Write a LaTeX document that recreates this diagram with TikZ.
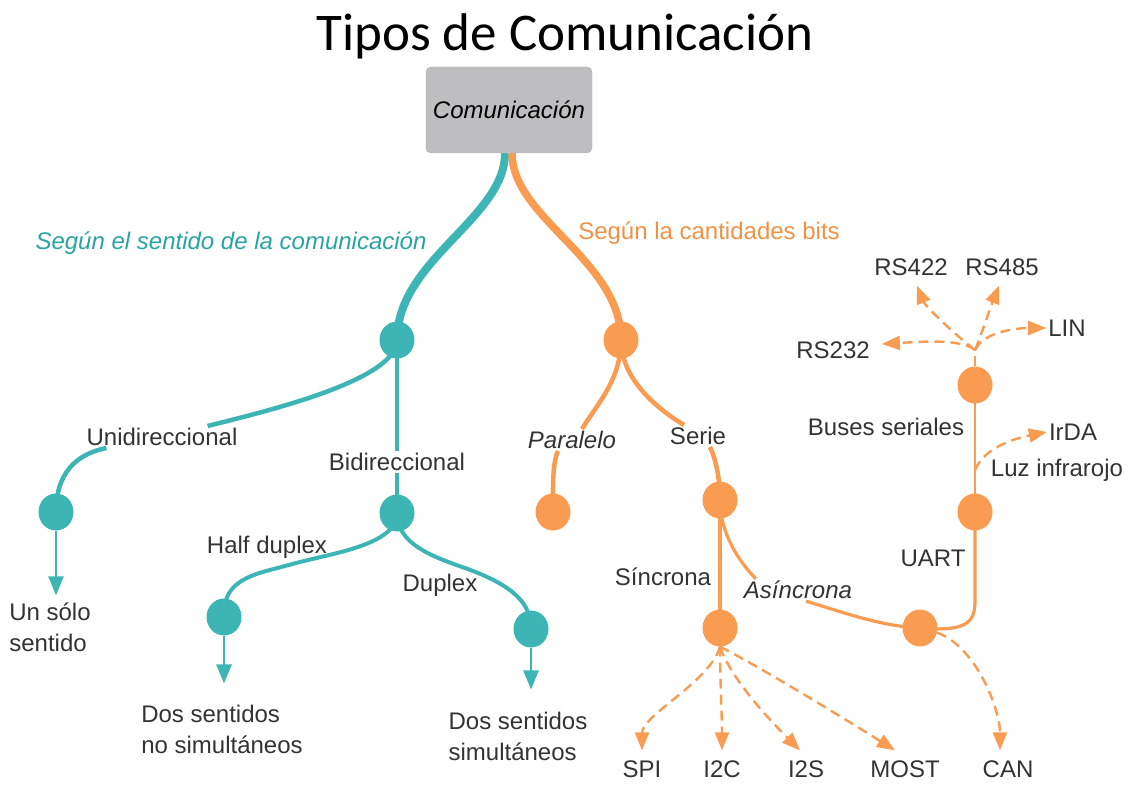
\documentclass[tikz,border=0pt]{standalone}
\usepackage{fontspec}
\setmainfont{Liberation Sans}
\newfontfamily\titlefont{Carlito}
\usetikzlibrary{arrows.meta,calc,shapes.geometric}
\definecolor{tealc}{HTML}{3DB5B5}
\definecolor{orgc}{HTML}{FA9B52}
\definecolor{txtc}{HTML}{333333}
\definecolor{boxc}{HTML}{BEBEC0}
\definecolor{boxd}{HTML}{B0B0B2}
\definecolor{tealt}{HTML}{2AA3A3}
\definecolor{orgt}{HTML}{F09245}
\pgfdeclarelayer{bg}
\pgfsetlayers{bg,main}
\begin{document}
\begin{tikzpicture}[x=1pt,y=-1pt,
 lbl/.style={font=\fontsize{24}{31}\selectfont, text=txtc, inner sep=2pt},
 ilbl/.style={lbl, font=\itshape\fontsize{24}{31}\selectfont},
 dot/.style={ellipse, minimum width=35pt, minimum height=37pt, inner sep=0pt},
 tdot/.style={dot, fill=tealc},
 odot/.style={dot, fill=orgc},
 tline/.style={draw=tealc, line width=4.5pt},
 oline/.style={draw=orgc, line width=4.5pt},
 othin/.style={draw=orgc, line width=3.2pt},
 tarrow/.style={draw=tealc, line width=2.5pt, -{Triangle[width=15pt,length=19pt]}},
 odash/.style={draw=orgc, line width=2.4pt, dash pattern=on 10pt off 6pt, -{Triangle[width=14pt,length=18pt]}},
]
\useasboundingbox (0,0) rectangle (1134,791);

% title and root
\node[font=\titlefont\fontsize{53}{58}\selectfont, text=black] (title) at (565,36) {Tipos de Comunicación};
\node[draw=boxd, fill=boxc, rounded corners=5pt, minimum width=166pt, minimum height=86pt,
      font=\itshape\fontsize{24}{28}\selectfont, text=black] (com) at (509,110) {Comunicación};

% circles
\node[tdot] (c1) at (397,340) {};
\node[odot] (c2) at (621,340) {};
\node[tdot] (cuni) at (56,512) {};
\node[tdot] (cbi) at (397,513) {};
\node[tdot] (chalf) at (224,617) {};
\node[tdot] (cdup) at (531,629) {};
\node[odot] (cpar) at (553,512) {};
\node[odot] (cser) at (720,500) {};
\node[odot] (csinc) at (720,628) {};
\node[odot] (casinc) at (920,628) {};
\node[odot] (cuart) at (975,512) {};
\node[odot] (cbus) at (975,385) {};
\coordinate (hub) at (975,350);

% labels
\node[ilbl, text=tealt] (lsent) at (231,243) {Según el sentido de la comunicación};
\node[lbl, text=orgt] (lbits) at (709,233) {Según la cantidades bits};
\node[lbl] (luni) at (162,437) {Unidireccional};
\node[lbl] (lbi) at (397,462) {Bidireccional};
\node[lbl] (lhalf) at (267,547) {Half duplex};
\node[lbl] (ldup) at (440,585) {Duplex};
\node[ilbl] (lpar) at (572,440) {Paralelo};
\node[lbl] (lser) at (698,436) {Serie};
\node[lbl] (lsinc) at (663,577) {Síncrona};
\node[ilbl] (lasinc) at (798,590) {Asíncrona};
\node[lbl] (luart) at (933,558) {UART};
\node[lbl] (lbuses) at (886,427) {Buses seriales};
\node[lbl] (lluz) at (1057,470) {Luz infrarojo};
\node[lbl] (lirda) at (1073,432) {IrDA};
\node[lbl] (lrs422) at (911,267) {RS422};
\node[lbl] (lrs485) at (1002,267) {RS485};
\node[lbl] (llin) at (1067,328) {LIN};
\node[lbl] (lrs232) at (833,350) {RS232};
\node[lbl] (lspi) at (642,769) {SPI};
\node[lbl] (li2c) at (722,769) {I2C};
\node[lbl] (li2s) at (806,769) {I2S};
\node[lbl] (lmost) at (905,769) {MOST};
\node[lbl] (lcan) at (1008,769) {CAN};
\node[lbl, align=left] (lun) at (50,627) {Un sólo\\sentido};
\node[lbl, align=left] (ldos1) at (222,729) {Dos sentidos\\no simultáneos};
\node[lbl, align=left] (ldos2) at (518,736) {Dos sentidos\\simultáneos};

\begin{pgfonlayer}{bg}
% main stems
\draw[draw=tealc, line width=8pt] ([xshift=-4pt]com.south) .. controls +(0,65) and +(0,-80) .. (c1.center);
\draw[draw=orgc, line width=7.5pt] ([xshift=3pt]com.south) .. controls +(0,65) and +(0,-80) .. (c2.center);

% teal branches
\draw[tline] (c1.center) .. controls +(0,40) and +(60,-15) .. ([xshift=-32pt]luni.north east);
\draw[tline] ([xshift=22pt]luni.south west) .. controls +(-40,8) and +(0,-28) .. (cuni.center);
\draw[draw=tealc, line width=4pt] (c1.center) -- (lbi.north);
\draw[draw=tealc, line width=4pt] (lbi.south) -- (cbi.center);
\draw[draw=tealc, line width=4pt] (cbi.center) .. controls +(0,30) and +(40,-10) .. (300,562)
  -- (270,570) .. controls +(-40,10) and +(0,-22) .. (chalf.center);
\draw[draw=tealc, line width=4pt] (cbi.center) .. controls +(0,30) and +(-35,-12) .. (465,568)
  .. controls +(50,18) and +(0,-25) .. (cdup.center);
\draw[tarrow] (cuni.south) -- ([yshift=5pt]cuni |- lun.north);
\draw[tarrow] (chalf.south) -- ([yshift=19pt]chalf |- ldos1.north);
\draw[tarrow] (cdup.south) -- ([yshift=20pt]cdup |- ldos2.north);

% orange branches
\draw[oline] (c2.center) .. controls +(0,40) and +(15,-25) .. ([xshift=10pt]lpar.north);
\draw[oline] (c2.center) .. controls +(0,40) and +(-25,-15) .. ([xshift=-14pt]lser.north);
\draw[oline] ([xshift=-14pt]lpar.south) .. controls +(-6,12) and +(0,-20) .. (cpar.center);
\draw[oline] ([xshift=12pt]lser.south) .. controls +(6,12) and +(0,-20) .. (cser.center);
\draw[othin] (cser.center) -- (csinc.center);
\draw[othin] (cser.center) .. controls +(0,35) and +(-15,-15) .. ([xshift=-42pt]lasinc.north);
\draw[othin] ([xshift=8pt]lasinc.south) .. controls +(40,12) and +(-40,-2) .. (casinc.center);
\draw[othin] (cuart.center) -- (975,600) .. controls (975,622) and (968,632) .. (casinc.center);
\draw[draw=orgc, line width=2.8pt] (cbus.center) -- (cuart.center);

% dashed arrows
\draw[odash] (csinc.south) .. controls +(-10,35) and +(0,-35) .. ([yshift=8pt]lspi.north);
\draw[odash] (csinc.south) .. controls +(0,30) and +(0,-30) .. ([yshift=8pt]li2c.north);
\draw[odash] (csinc.south) .. controls +(12,35) and +(-25,-25) .. ([xshift=-6pt,yshift=8pt]li2s.north);
\draw[odash] (csinc.south) .. controls +(40,20) and +(-40,-25) .. ([xshift=-10pt,yshift=8pt]lmost.north);
\draw[odash] (casinc.-15) .. controls +(40,15) and +(0,-40) .. ([xshift=-8pt,yshift=8pt]lcan.north);
\draw[draw=orgc, line width=2.4pt, dash pattern=on 10pt off 6pt] (cbus.north) -- (hub);
\draw[odash] (hub) .. controls +(-15,-12) and +(35,-2) .. ([xshift=10pt,yshift=6pt]lrs232.east);
\draw[odash] (hub) .. controls +(-20,-15) and +(8,20) .. ([xshift=6pt,yshift=-8pt]lrs422.south);
\draw[odash] (hub) .. controls +(8,-20) and +(-8,20) .. ([xshift=-3pt,yshift=-8pt]lrs485.south);
\draw[odash] (hub) .. controls +(10,-20) and +(-25,0) .. (llin.west);
\draw[odash] ($(cbus)!0.67!(cuart)$) .. controls +(10,-25) and +(-25,5) .. (lirda.west);
\end{pgfonlayer}
\end{tikzpicture}
\end{document}
